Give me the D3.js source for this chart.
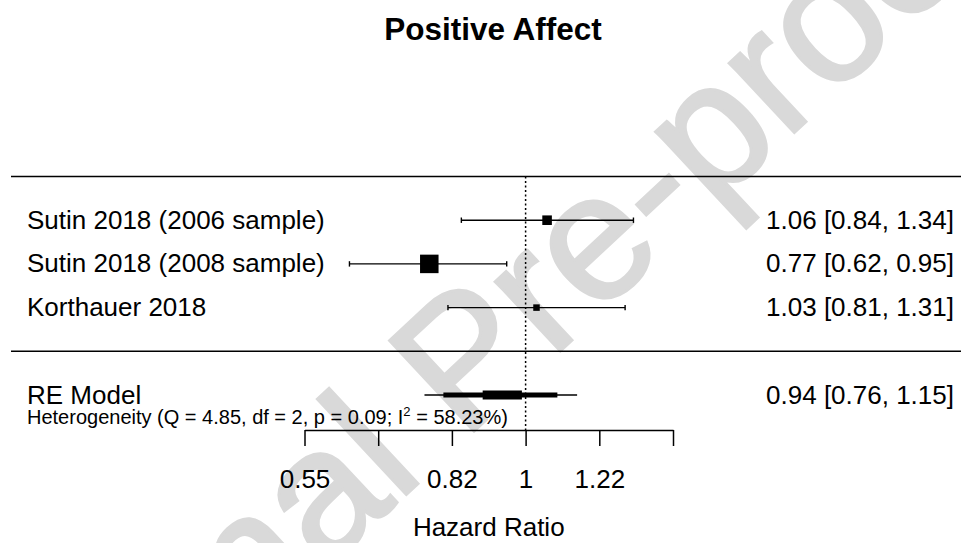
<!DOCTYPE html>
<meta charset="utf-8">
<style>
body { margin: 0; background: #fff; }
text { font-family: "Liberation Sans", Arial, sans-serif; fill: #000; }
.watermark { fill: #d9d9d9; stroke: #d9d9d9; stroke-width: 3px; }
</style>
<body>
<script src="https://cdn.jsdelivr.net/npm/d3@7"></script>
<script>

// study rows (top to bottom)
var studies = ["Sutin 2018 (2006 sample)", "Sutin 2018 (2008 sample)", "Korthauer 2018"];
var hr      = [1.06, 0.77, 1.03];
var ciLow   = [0.84, 0.62, 0.81];
var ciHigh  = [1.34, 0.95, 1.31];
var weights = [32.0, 38.1, 29.9];
var rows    = [3, 2, 1];

// pooled estimate
var reLabel  = "RE Model";
var reEst    = 0.94;
var reCI     = [0.76, 1.15];
var reBand80 = [0.80, 1.09];
var reBand50 = [0.89, 0.99];
var reRow    = -1;
var hetParts = ["Heterogeneity (Q = 4.85, df = 2, p = 0.09; I", "2", " = 58.23%)"];

// x axis
var tickValues = [0.5488, 0.6703, 0.8187, 1, 1.2214, 1.4918];
var tickLabels = ["0.55", "", "0.82", "1", "1.22", ""];
var refValue = 1;

var W = 961, H = 543;

var svg = d3.select("body").append("svg")
    .attr("width", W)
    .attr("height", H);

// watermark behind everything
svg.append("text")
    .attr("class", "watermark")
    .attr("transform", "translate(-5,878) rotate(-43)")
    .style("font-size", "180px")
    .text("Journal Pre-proof");

var x = d3.scaleLog()
    .domain([tickValues[0], tickValues[tickValues.length - 1]])
    .range([304.5, 673]);
var y = d3.scaleLinear()
    .domain([-1, 4])
    .range([395, 176.5]);
var size = d3.scaleLinear()
    .domain(d3.extent(weights))
    .range([6.5, 18.5]);

// title
svg.append("text")
    .attr("x", 493)
    .attr("y", 39.5)
    .attr("text-anchor", "middle")
    .style("font-size", "31.5px")
    .style("font-weight", "bold")
    .text("Positive Affect");

// horizontal rules
[4, 0].forEach(function(r) {
  svg.append("line")
      .attr("x1", 11).attr("x2", W)
      .attr("y1", y(r)).attr("y2", y(r))
      .attr("stroke", "#000")
      .attr("stroke-width", 1.6);
});

// reference line
svg.append("line")
    .attr("x1", x(refValue)).attr("x2", x(refValue))
    .attr("y1", y(4)).attr("y2", 430)
    .attr("stroke", "#000")
    .attr("stroke-width", 1.5)
    .attr("stroke-dasharray", "2,2.5");

// study CIs + squares
var st = svg.append("g").selectAll("g")
    .data(studies)
    .enter().append("g");

st.append("line")
    .attr("x1", function(d, i) { return x(ciLow[i]); })
    .attr("x2", function(d, i) { return x(ciHigh[i]); })
    .attr("y1", function(d, i) { return y(rows[i]); })
    .attr("y2", function(d, i) { return y(rows[i]); })
    .attr("stroke", "#000")
    .attr("stroke-width", 1.4);

[ciLow, ciHigh].forEach(function(arr) {
  st.append("line")
      .attr("x1", function(d, i) { return x(arr[i]); })
      .attr("x2", function(d, i) { return x(arr[i]); })
      .attr("y1", function(d, i) { return y(rows[i]) - 2.7; })
      .attr("y2", function(d, i) { return y(rows[i]) + 2.7; })
      .attr("stroke", "#000")
      .attr("stroke-width", 1.4);
});

st.append("rect")
    .attr("x", function(d, i) { return x(hr[i]) - size(weights[i]) / 2; })
    .attr("y", function(d, i) { return y(rows[i]) - size(weights[i]) / 2; })
    .attr("width", function(d, i) { return size(weights[i]); })
    .attr("height", function(d, i) { return size(weights[i]); })
    .attr("fill", "#000");

st.append("text")
    .attr("x", 27)
    .attr("y", function(d, i) { return y(rows[i]); })
    .attr("dy", "0.33em")
    .style("font-size", "26px")
    .text(function(d) { return d; });

st.append("text")
    .attr("x", 954)
    .attr("y", function(d, i) { return y(rows[i]); })
    .attr("dy", "0.33em")
    .attr("text-anchor", "end")
    .style("font-size", "26px")
    .text(function(d, i) {
      return hr[i].toFixed(2) + " [" + ciLow[i].toFixed(2) + ", " + ciHigh[i].toFixed(2) + "]";
    });

// pooled estimate
var re = svg.append("g");
re.append("line")
    .attr("x1", x(reCI[0])).attr("x2", x(reCI[1]))
    .attr("y1", y(reRow)).attr("y2", y(reRow))
    .attr("stroke", "#000")
    .attr("stroke-width", 1.4);
re.append("rect")
    .attr("x", x(reBand80[0]))
    .attr("width", x(reBand80[1]) - x(reBand80[0]))
    .attr("y", y(reRow) - 2.5)
    .attr("height", 5)
    .attr("fill", "#000");
re.append("rect")
    .attr("x", x(reBand50[0]))
    .attr("width", x(reBand50[1]) - x(reBand50[0]))
    .attr("y", y(reRow) - 4.5)
    .attr("height", 9)
    .attr("fill", "#000");

re.append("text")
    .attr("x", 27)
    .attr("y", y(reRow))
    .attr("dy", "0.33em")
    .style("font-size", "26px")
    .text(reLabel);
re.append("text")
    .attr("x", 954)
    .attr("y", y(reRow))
    .attr("dy", "0.33em")
    .attr("text-anchor", "end")
    .style("font-size", "26px")
    .text(reEst.toFixed(2) + " [" + reCI[0].toFixed(2) + ", " + reCI[1].toFixed(2) + "]");

var het = re.append("text")
    .attr("x", 27)
    .attr("y", 424)
    .style("font-size", "20px");
het.append("tspan").text(hetParts[0]);
het.append("tspan")
    .attr("dy", -8)
    .style("font-size", "13px")
    .text(hetParts[1]);
het.append("tspan")
    .attr("dy", 8)
    .text(hetParts[2]);

// x axis
var axis = svg.append("g")
    .attr("transform", "translate(0,430)")
    .call(d3.axisBottom(x)
      .tickValues(tickValues)
      .tickFormat(function(d, i) { return tickLabels[i]; })
      .tickSize(16)
      .tickSizeOuter(0)
      .tickPadding(23.5));
axis.selectAll("path, line").attr("stroke", "#000").attr("stroke-width", 1.5);
axis.selectAll("text")
    .style("font-size", "26px")
    .style("font-family", "'Liberation Sans', Arial, sans-serif")
    .attr("fill", "#000");

svg.append("text")
    .attr("x", (x.range()[0] + x.range()[1]) / 2)
    .attr("y", 536)
    .attr("text-anchor", "middle")
    .style("font-size", "26px")
    .text("Hazard Ratio");

</script>
</body>
